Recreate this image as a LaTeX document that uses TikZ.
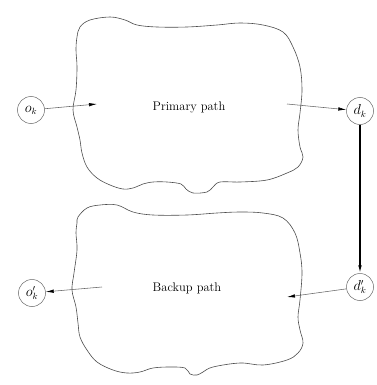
\documentclass[tikz,border=0pt]{standalone}
\usetikzlibrary{arrows.meta}
\begin{document}
\begin{tikzpicture}[x=1pt,y=-1pt,
  blob/.style={draw=black!70,line width=0.6pt},
  endpoint/.style={circle,draw=black!60,line width=0.5pt,minimum size=27pt,inner sep=0pt,font=\fontsize{13.5}{15}\selectfont},
  flow/.style={draw=black!60,line width=0.55pt,-{Latex[length=8pt,width=3.4pt,color=black]}},
  reroute/.style={draw=black,line width=1.3pt,-{Latex[length=8pt,width=3.6pt]}},
  region/.style={font=\fontsize{12.5}{14}\selectfont}]
\useasboundingbox (0,0) rectangle (376,385);

% primary path region
\draw[blob] plot[smooth cycle,tension=0.6] coordinates {
  (80,27) (90,20) (110,17) (125,20) (137,25) (157,27) (187,27) (217,25)
  (240,23) (263,25) (283,32) (293,47) (300,67) (302,90) (300,113) (298,130)
  (300,147) (303,157) (298,167) (287,173) (267,180) (240,182) (220,182)
  (213,187) (207,192) (193,193) (186,189) (181,184) (167,182) (153,182)
  (143,184) (133,188) (123,189) (110,185) (97,178) (87,167) (82,153)
  (80,140) (77,127) (73,110) (76,90) (77,67) (76,50) (77,37)};

% backup path region
\draw[blob] plot[smooth cycle,tension=0.6] coordinates {
  (78,217) (87,208) (100,205) (117,205) (133,212) (153,215) (187,215)
  (217,213) (240,212) (263,213) (283,218) (295,233) (300,253) (302,273)
  (300,300) (298,317) (300,330) (303,343) (298,353) (287,360) (263,365)
  (240,363) (213,367) (203,372) (197,375) (190,374) (185,368) (170,367)
  (153,368) (140,372) (127,373) (113,370) (97,362) (87,350) (80,337)
  (78,323) (76,307) (72,290) (74,273) (77,250) (76,233) (77,223)};

\node[region] (prim) at (189,107) {Primary path};
\node[region] (back) at (187,288) {Backup path};

\node[endpoint] (o)  at (31,110)  {$o_k$};
\node[endpoint] (d)  at (360,111) {$d_k$};
\node[endpoint] (d2) at (360,287) {$d'_k$};
\node[endpoint] (o2) at (32,293)  {$o'_k$};

\coordinate (pin)  at (97,104);
\coordinate (pout) at (287,104);
\coordinate (bin)  at (287,297);
\coordinate (bout) at (102,287);

\draw[flow] (o) -- (pin);
\draw[flow] (pout) -- (d);
\draw[reroute] (d) -- (d2);
\draw[flow] (d2) -- (bin);
\draw[flow] (bout) -- (o2);
\end{tikzpicture}
\end{document}
